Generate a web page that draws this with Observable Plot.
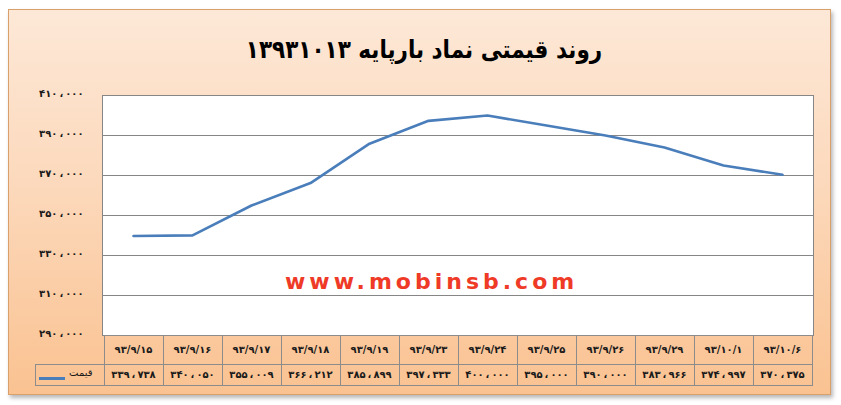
<!DOCTYPE html>
<html>
<head>
<meta charset="utf-8">
<script src="https://cdn.jsdelivr.net/npm/d3@7"></script>
<script src="https://cdn.jsdelivr.net/npm/@observablehq/plot@0.6"></script>
<style>
  html, body { margin: 0; padding: 0; background: #fff; }
  #wrap { position: relative; width: 841px; height: 405px; overflow: hidden; font-family: "DejaVu Sans", sans-serif; }
  #box { position: absolute; left: 8px; top: 9px; width: 823px; height: 386px; box-sizing: border-box;
         border: 1px solid #d9a06c; background: linear-gradient(to bottom, #fde8d7 0%, #fcd9bc 45%, #fac291 100%);
         box-shadow: 2px 3px 4px rgba(0,0,0,0.28); }
  #chart { position: absolute; left: 0; top: 0; }
  #chart svg text { font-weight: bold; }
  #title { position: absolute; left: 0; width: 848px; top: 30px; text-align: center; direction: rtl;
           font-weight: bold; font-size: 25px; color: #000; line-height: 40px; transform: scaleX(0.86); }
  #mark { position: absolute; left: 285px; top: 270px; font-weight: bold; font-size: 22px; letter-spacing: 4px;
          color: #ee3a26; line-height: 24px; white-space: nowrap; }
  .cell { position: absolute; box-sizing: border-box; border: 1px solid #8c8c8c; font-weight: bold; font-size: 10px;
          color: #1a1a1a; text-align: center; white-space: nowrap; }
</style>
</head>
<body>
<div id="wrap">
  <div id="box"></div>
  <div id="chart"></div>
  <div id="title"></div>
  <div id="mark"></div>
</div>
<script>
const titleText = "روند قیمتی نماد بارپایه ۱۳۹۳۱۰۱۳";
const watermark = "www.mobinsb.com";
const seriesName = "قیمت";
const dates = ["93/9/15", "93/9/16", "93/9/17", "93/9/18", "93/9/19", "93/9/23",
               "93/9/24", "93/9/25", "93/9/26", "93/9/29", "93/10/1", "93/10/6"];
const prices = [339738, 340050, 355009, 366212, 385899, 397333,
                400000, 395000, 390000, 383966, 374997, 370375];
const yTicks = [290000, 310000, 330000, 350000, 370000, 390000, 410000];

const faDigits = "۰۱۲۳۴۵۶۷۸۹";
const fa = s => String(s).replace(/[0-9]/g, d => faDigits[d]);
const num = v => fa(d3.format(",")(v)).replace(/,/g, "\u2009،\u2009");

const data = dates.map((d, i) => ({date: d, price: prices[i]}));

const chart = Plot.plot({
  width: 841,
  height: 405,
  marginTop: 95,
  marginBottom: 70,
  marginLeft: 102,
  marginRight: 28,
  style: {background: "transparent", fontFamily: "DejaVu Sans", fontSize: "10px", color: "#1a1a1a", overflow: "visible"},
  x: {type: "point", domain: dates, padding: 0.5, label: null, axis: null},
  y: {domain: [290000, 410000], label: null, axis: null},
  marks: [
    Plot.frame({fill: "white", stroke: "none"}),
    Plot.gridY(yTicks, {stroke: "#868686", strokeOpacity: 1}),
    Plot.frame({stroke: "#868686"}),
    Plot.axisY(yTicks, {tickSize: 0, tickPadding: 19, dy: -2, tickFormat: num, label: null, fill: "#1a1a1a"}),
    Plot.axisX(dates, {tickSize: 0, tickPadding: 10, tickFormat: fa, label: null, fill: "#1a1a1a"}),
    Plot.line(data, {x: "date", y: "price", stroke: "#4a7ebb", strokeWidth: 2.6})
  ]
});
document.getElementById("chart").appendChild(chart);
document.getElementById("title").textContent = titleText;
document.getElementById("mark").textContent = watermark;

// data table under the chart, positioned from Plot's own scales
const xs = chart.scale("x");
const ys = chart.scale("y");
const step = xs.apply(dates[1]) - xs.apply(dates[0]);
const top1 = ys.apply(yTicks[0]);
const h1 = 29, h2 = 22;
const wrap = document.getElementById("wrap");
const tableLeft = 35;
dates.forEach((d, i) => {
  const left = xs.apply(d) - step / 2;
  const c1 = document.createElement("div");
  c1.className = "cell";
  Object.assign(c1.style, {left: left + "px", top: top1 + "px", width: (step + 1) + "px", height: (h1 + 1) + "px"});
  wrap.appendChild(c1);
  const c2 = document.createElement("div");
  c2.className = "cell";
  Object.assign(c2.style, {left: left + "px", top: (top1 + h1) + "px", width: (step + 1) + "px", height: h2 + "px",
    lineHeight: (h2 - 2) + "px"});
  c2.textContent = num(prices[i]);
  wrap.appendChild(c2);
});
const firstLeft = xs.apply(dates[0]) - step / 2;
const lg = document.createElement("div");
lg.className = "cell";
Object.assign(lg.style, {left: tableLeft + "px", top: (top1 + h1) + "px", width: (firstLeft - tableLeft + 1) + "px", height: h2 + "px"});
const sp = document.createElement("span");
sp.textContent = seriesName;
Object.assign(sp.style, {position: "absolute", right: "11px", top: "2px", fontWeight: "normal", fontSize: "10px", direction: "rtl"});
const ln = document.createElement("i");
Object.assign(ln.style, {position: "absolute", left: "3px", width: "26px", height: "3px", top: "12px", background: "#4a7ebb"});
lg.appendChild(sp);
lg.appendChild(ln);
wrap.appendChild(lg);
</script>
</body>
</html>
